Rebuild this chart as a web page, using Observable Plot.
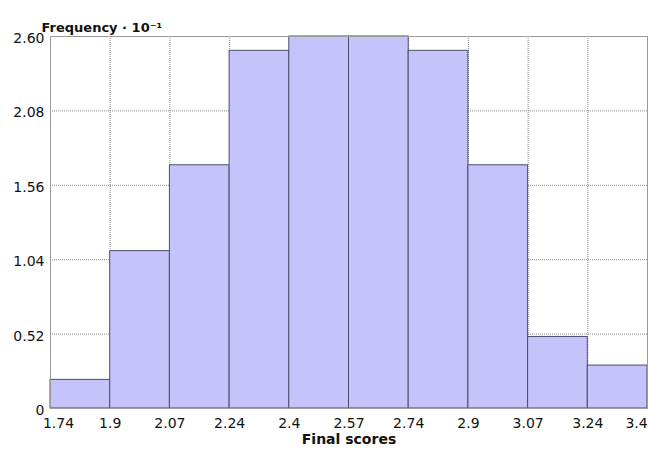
<!DOCTYPE html>
<html>
<head>
<meta charset="utf-8">
<script src="https://cdn.jsdelivr.net/npm/d3@7"></script>
<script src="https://cdn.jsdelivr.net/npm/@observablehq/plot@0.6"></script>
<style>
  html, body { margin: 0; padding: 0; background: #fff; }
  #chart svg { display: block; }
</style>
</head>
<body>
<div id="chart"></div>
<script>
// Bin edges (equal-width bins between 1.74 and 3.4)
const binEdges = [1.74, 1.906, 2.072, 2.238, 2.404, 2.57, 2.736, 2.902, 3.068, 3.234, 3.4];
const binLabels = ["1.74", "1.9", "2.07", "2.24", "2.4", "2.57", "2.74", "2.9", "3.07", "3.24", "3.4"];
// Frequencies (×10^-1) for each bin
const frequencies = [0.2, 1.1, 1.7, 2.5, 2.6, 2.6, 2.5, 1.7, 0.5, 0.3];
// Y tick values and labels
const yTicks = [0, 0.52, 1.04, 1.56, 2.08, 2.6];
const yLabels = ["0", "0.52", "1.04", "1.56", "2.08", "2.60"];
const xTitle = "Final scores";
const yTitle = "Frequency · 10⁻¹";

const bins = frequencies.map((f, i) => ({x1: binEdges[i], x2: binEdges[i + 1], y: f}));
const labelOf = new Map(binEdges.map((e, i) => [e, binLabels[i]]));
const yLabelOf = new Map(yTicks.map((t, i) => [t, yLabels[i]]));

const font = "'DejaVu Sans', Verdana, sans-serif";
const gridStyle = {stroke: "#8a8a8a", strokeOpacity: 1, strokeDasharray: "1,1", strokeWidth: 1};
const xAxisStyle = {tickSize: 0, tickPadding: 10, tickFormat: d => labelOf.get(d), label: null, fontSize: 14};

const chart = Plot.plot({
  width: 648,
  height: 451,
  marginLeft: 50,
  marginRight: 1,
  marginTop: 36,
  marginBottom: 43,
  style: {fontFamily: font, fontSize: "14px", color: "#111", background: "#fff"},
  x: {domain: [1.74, 3.4]},
  y: {domain: [0, 2.6]},
  marks: [
    Plot.gridX(binEdges, gridStyle),
    Plot.gridY(yTicks, gridStyle),
    Plot.rectY(bins, {x1: "x1", x2: "x2", y: "y", fill: "#c4c4fb", stroke: "#4d4d6b", strokeWidth: 1}),
    Plot.frame({stroke: "#9a9a9a"}),
    Plot.axisX(binEdges.slice(1, -1), xAxisStyle),
    Plot.axisX([binEdges[0]], {...xAxisStyle, dx: 8}),
    Plot.axisX([binEdges[binEdges.length - 1]], {...xAxisStyle, dx: -11}),
    Plot.axisY(yTicks, {tickSize: 0, tickPadding: 6, dy: 2, tickFormat: d => yLabelOf.get(d), label: null, fontSize: 14}),
    Plot.text([xTitle], {frameAnchor: "bottom", dy: 35, fontWeight: "bold", fontSize: 14, fill: "#111"}),
    Plot.text([yTitle], {frameAnchor: "top-left", dx: -9, dy: -14, textAnchor: "start", fontWeight: "bold", fontSize: 13, fill: "#111"})
  ]
});
document.getElementById("chart").appendChild(chart);
</script>
</body>
</html>
